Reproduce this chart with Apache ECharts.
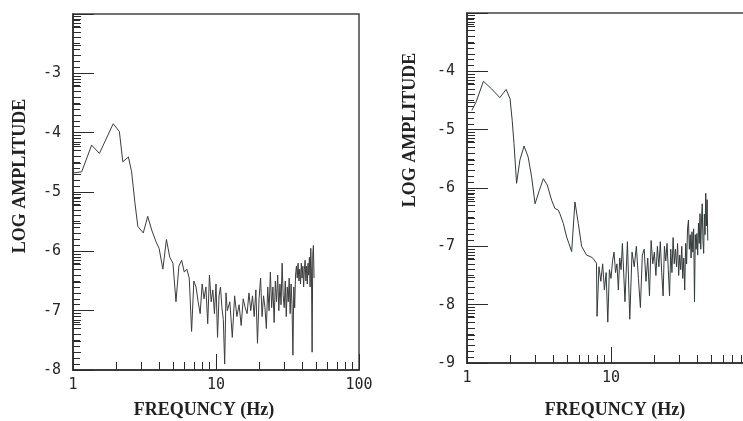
<!DOCTYPE html>
<html>
<head>
<meta charset="utf-8">
<script src="https://cdn.jsdelivr.net/npm/echarts@6/dist/echarts.min.js"></script>
<style>
  html, body { margin: 0; padding: 0; background: #fff; }
  #chart { width: 743px; height: 421px; }
</style>
</head>
<body>
<div id="chart"></div>
<script>
// spectrum, left panel (Hz / log amplitude)
var leftFreq = [
  1, 1.15, 1.35, 1.53, 1.91, 2.11, 2.23, 2.44, 2.57, 2.71,
  2.84, 3.1, 3.33, 3.55, 3.81,
  4, 4.25, 4.5, 4.75, 5, 5.25, 5.5, 5.75, 6, 6.25,
  6.5, 6.75, 7, 7.25, 7.5, 7.75, 8, 8.25, 8.5, 8.75,
  9, 9.25, 9.5, 9.75, 10, 10.25, 10.5, 10.75, 11, 11.25,
  11.5, 11.75, 12, 12.5, 13, 13.5, 14, 14.5, 15, 15.5,
  16, 16.5, 17, 17.5, 18, 18.5, 19, 19.5, 20, 20.5,
  21, 21.5, 22, 22.5, 23, 23.5, 24, 24.5, 25, 25.5,
  26, 26.5, 27, 27.5, 28, 28.5, 29, 29.5, 30, 30.5,
  31, 31.5, 32, 32.5, 33, 33.5, 34, 34.5, 35, 35.5,
  36, 36.5, 37, 37.5, 38, 38.5, 39, 39.5, 40, 40.5,
  41, 41.5, 42, 42.5, 43, 43.5, 44, 44.5, 45, 45.5,
  46, 46.5, 47, 47.5, 48, 48.5
];
var leftAmp = [
  -4.68, -4.66, -4.21, -4.35, -3.85, -3.98, -4.49, -4.41, -4.66, -5.18,
  -5.58, -5.69, -5.41, -5.64, -5.84,
  -5.95, -6.30, -5.80, -6.10, -6.20, -6.85, -6.25, -6.15, -6.35, -6.30,
  -6.45, -7.35, -6.50, -6.60, -6.85, -7.05, -6.55, -6.80, -6.60, -7.22,
  -6.40, -6.85, -6.65, -7.05, -6.55, -7.45, -6.75, -6.60, -6.95, -7.15,
  -7.90, -6.70, -7.00, -6.85, -7.45, -6.75, -7.10, -6.90, -7.25, -6.80,
  -6.95, -7.05, -6.70, -7.00, -6.75, -7.10, -6.65, -7.55, -6.80, -6.45,
  -7.10, -6.75, -6.95, -7.30, -6.60, -7.00, -6.35, -6.95, -6.60, -7.20,
  -6.50, -6.85, -6.40, -7.00, -6.55, -6.90, -6.20, -6.75, -6.95, -6.50,
  -7.10, -6.60, -6.85, -6.45, -7.05, -6.55, -6.90, -7.75, -6.60, -6.95,
  -6.40, -6.25, -6.45, -6.20, -6.50, -6.30, -6.55, -6.20, -6.45, -6.25,
  -6.60, -6.30, -6.15, -6.50, -6.25, -6.55, -6.20, -6.40, -6.10, -6.60,
  -5.95, -6.35, -7.70, -6.05, -5.90, -6.45
];

// spectrum, right panel
var rightFreq = [
  1.08, 1.155, 1.3, 1.48, 1.69, 1.87, 1.99, 2.06, 2.12, 2.21,
  2.33, 2.49, 2.66, 2.81, 2.97, 3.18, 3.39, 3.61, 3.87, 4.08,
  4.31, 4.43, 4.67, 4.92, 5.1, 5.33, 5.62, 5.93, 6.25, 6.77,
  7.25, 7.53, 7.93,
  8, 8.25, 8.5, 8.75, 9, 9.25, 9.5, 9.75, 10, 10.25,
  10.5, 10.75, 11, 11.25, 11.5, 11.75, 12,
  12.5, 13, 13.5, 14, 14.5, 15, 15.5, 16, 16.5, 17,
  17.5, 18, 18.5, 19, 19.5, 20, 20.5, 21, 21.5, 22,
  22.5, 23, 23.5, 24, 24.5, 25, 25.5, 26, 26.5, 27,
  27.5, 28, 28.5, 29, 29.5, 30, 30.5, 31, 31.5, 32,
  32.5, 33, 33.5, 34, 34.5, 35, 35.5, 36, 36.5, 37,
  37.5, 38, 38.5, 39, 39.5, 40, 40.5, 41, 41.5, 42,
  42.5, 43, 43.5, 44, 44.5, 45, 45.5, 46, 46.5, 47
];
var rightAmp = [
  -4.67, -4.53, -4.17, -4.30, -4.45, -4.31, -4.47, -4.84, -5.24, -5.92,
  -5.52, -5.28, -5.47, -5.81, -6.27, -6.04, -5.84, -5.95, -6.21, -6.35,
  -6.38, -6.45, -6.61, -6.84, -6.95, -7.09, -6.24, -6.61, -7.00, -7.15,
  -7.18, -7.21, -7.29,
  -8.20, -7.35, -7.60, -7.30, -7.75, -7.45, -8.30, -7.40, -7.55, -7.25,
  -7.10, -7.45, -7.30, -7.75, -7.20, -7.40, -6.95,
  -7.95, -6.92, -8.25, -7.10, -7.35, -7.00, -7.55, -8.05, -7.15, -7.05,
  -7.60, -7.20, -7.85, -6.90, -7.30, -7.10, -7.50, -7.00, -7.35, -6.92,
  -7.45, -7.85, -7.00, -7.25, -6.95, -7.40, -7.85, -7.05, -7.45, -6.85,
  -7.30, -7.05, -7.35, -6.95, -7.50, -7.15, -7.40, -7.00, -7.55, -7.20,
  -7.75, -6.95, -7.30, -6.70, -6.55, -7.05, -6.80, -7.20, -6.75, -7.10,
  -6.70, -7.95, -6.80, -7.05, -6.78, -7.15, -6.60, -6.95, -6.44, -7.05,
  -6.55, -6.27, -6.90, -7.12, -6.45, -6.80, -6.09, -6.65, -6.20, -6.90
];

var leftXLabels = [1, 10, 100];
var rightXLabels = [1, 10];
var leftYLabels = [-8, -7, -6, -5, -4, -3];
var rightYLabels = [-9, -8, -7, -6, -5, -4];
var yTitle = 'LOG AMPLITUDE';
var xTitle = 'FREQUNCY (Hz)';

var tickFont = { fontFamily: 'DejaVu Sans Mono', fontSize: 15, color: '#262626' };
var inkColor = '#2b2b2b';

function pairs(xs, ys) {
  var out = [];
  for (var i = 0; i < xs.length; i++) out.push([xs[i], ys[i]]);
  return out;
}

// 2..9 ticks in every decade between 10^lo and 10^hi
function decadeTicks(lo, hi) {
  var t = [];
  for (var n = lo; n < hi; n++)
    for (var k = 2; k <= 9; k++) t.push(k * Math.pow(10, n));
  return t;
}

function makeX(gridIndex, major, labels) {
  return {
    type: 'log', logBase: 10, gridIndex: gridIndex, min: 1, max: 100,
    position: 'bottom',
    axisLine: { show: major, onZero: false, lineStyle: { color: inkColor, width: 1.5 } },
    axisTick: major
      ? { show: true, inside: true, length: 16, customValues: [1, 10, 100], lineStyle: { color: inkColor, width: 1 } }
      : { show: true, inside: true, length: 8, customValues: decadeTicks(0, 2), lineStyle: { color: inkColor, width: 1 } },
    axisLabel: major
      ? Object.assign({ show: true, margin: 8, customValues: labels }, tickFont)
      : { show: false },
    splitLine: { show: false }
  };
}

function makeY(gridIndex, min, max, labels) {
  return {
    type: 'value', gridIndex: gridIndex, min: min, max: max, interval: 1,
    position: 'left',
    axisLine: { show: true, onZero: false, lineStyle: { color: inkColor, width: 1.5 } },
    axisTick: { show: true, inside: true, length: 21, lineStyle: { color: inkColor, width: 1 } },
    minorTick: { show: true, splitNumber: 10, length: 7, lineStyle: { color: inkColor, width: 1 } },
    axisLabel: Object.assign({ show: true, margin: 12, customValues: labels }, tickFont),
    splitLine: { show: false }
  };
}

// overlay grid: hidden x axis + a log axis (amplitude relative to the bottom decade)
// that only carries the 2..9 minor marks
function makeHiddenX(gridIndex) {
  return { type: 'log', logBase: 10, gridIndex: gridIndex, min: 1, max: 100, show: false };
}
function makeMinorY(gridIndex, decades) {
  return {
    type: 'log', logBase: 10, gridIndex: gridIndex,
    min: 1, max: Math.pow(10, decades),
    position: 'left',
    axisLine: { show: false, onZero: false },
    axisTick: { show: true, inside: true, length: 8, customValues: decadeTicks(0, decades), lineStyle: { color: inkColor, width: 1 } },
    axisLabel: { show: false },
    splitLine: { show: false }
  };
}

var titleStyle = { fontFamily: 'Liberation Serif', fontWeight: 'bold', fontSize: 18, fill: '#222' };

var leftRect = { left: 73, top: 14, width: 286, height: 356 };
var rightRect = { left: 467, top: 13, width: 288, height: 350 };

function makeGrid(rect, framed) {
  return Object.assign({
    outerBoundsMode: 'none', containLabel: false,
    show: framed, borderColor: '#444', borderWidth: 1.5, backgroundColor: 'transparent'
  }, rect);
}

var options = {
  animation: false,
  backgroundColor: '#ffffff',
  grid: [
    makeGrid(leftRect, true), makeGrid(rightRect, true),
    makeGrid(leftRect, false), makeGrid(rightRect, false)
  ],
  xAxis: [
    makeX(0, true, leftXLabels), makeX(0, false),
    makeX(1, true, rightXLabels), makeX(1, false),
    makeHiddenX(2), makeHiddenX(3)
  ],
  yAxis: [
    makeY(0, -8, -2, leftYLabels),
    makeY(1, -9, -3, rightYLabels),
    makeMinorY(2, 6),
    makeMinorY(3, 6)
  ],
  series: [
    {
      type: 'line', xAxisIndex: 0, yAxisIndex: 0, showSymbol: false,
      data: pairs(leftFreq, leftAmp),
      lineStyle: { color: '#3c3c3c', width: 1 }
    },
    {
      type: 'line', xAxisIndex: 2, yAxisIndex: 1, showSymbol: false,
      data: pairs(rightFreq, rightAmp),
      lineStyle: { color: '#333a3a', width: 1 }
    }
  ],
  graphic: [
    { type: 'text', x: 20, y: 176, rotation: Math.PI / 2,
      style: Object.assign({ text: yTitle, align: 'center', verticalAlign: 'middle' }, titleStyle) },
    { type: 'text', x: 410, y: 130, rotation: Math.PI / 2,
      style: Object.assign({ text: yTitle, align: 'center', verticalAlign: 'middle' }, titleStyle) },
    { type: 'text', x: 204, y: 410,
      style: Object.assign({ text: xTitle, align: 'center', verticalAlign: 'middle' }, titleStyle) },
    { type: 'text', x: 615, y: 410,
      style: Object.assign({ text: xTitle, align: 'center', verticalAlign: 'middle' }, titleStyle) }
  ]
};

var myChart = echarts.init(document.getElementById('chart'));
myChart.setOption(options);
</script>
</body>
</html>
